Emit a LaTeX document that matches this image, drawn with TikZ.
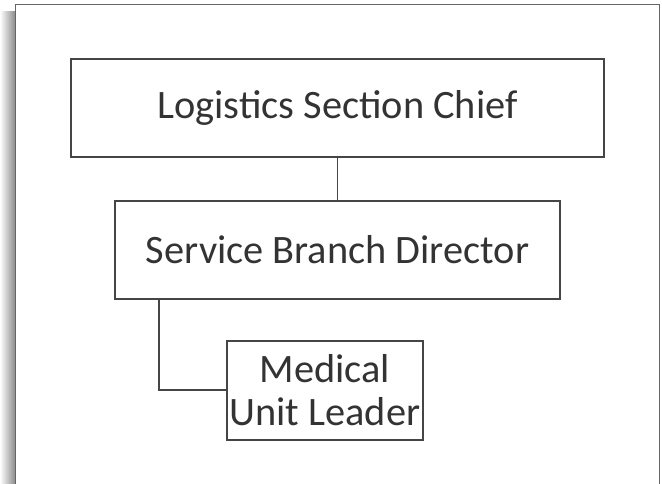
\documentclass[tikz,border=0pt]{standalone}
\usepackage{fontspec}
\setmainfont{Carlito}
\usepackage{tikz}
\usetikzlibrary{positioning,shadings}

\definecolor{boxline}{HTML}{454545}
\definecolor{boxtext}{HTML}{333333}

\begin{document}
\begin{tikzpicture}[x=1bp,y=-1bp,
        orgbox/.style={rectangle, draw=boxline, line width=1.8bp, text=boxtext,
                       inner sep=0pt, align=center,
                       font=\fontsize{40.5}{44}\selectfont},
        orgline/.style={draw=boxline, line width=1.8bp}]
        \useasboundingbox (0,0) rectangle (662,484);
        % frame with shadow on the left
        \shade[left color=white, right color=black!45] (0,12) rectangle (15,484);
        \fill[white] (15,4) rectangle (659,484);
        \draw[black!60, line width=0.8bp] (15,484) -- (15,4) -- (659,4) -- (659,484);
        % chart
        \node[orgbox, minimum width=533bp, minimum height=98bp] (lsc) at (337.5,108)
                {Logistics Section Chief};
        \node[orgbox, minimum width=445bp, minimum height=98bp, below = 42bp of lsc] (sbd)
                {Service Branch Director};
        \node[orgbox, minimum width=196bp, minimum height=99bp,
              below = 40bp of sbd, xshift=-12.5bp] (mul)
                {Medical\\Unit Leader};
        \draw[orgline] (lsc) -- (sbd);
        \draw[orgline] (sbd.south west) ++(45bp,0) |- (mul.west);
      \end{tikzpicture}
\end{document}
